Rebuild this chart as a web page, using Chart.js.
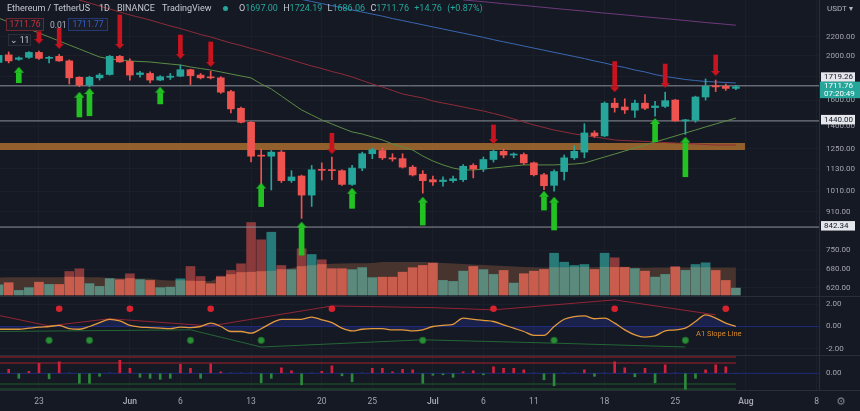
<!DOCTYPE html>
<html><head><meta charset="utf-8">
<script src="https://cdn.jsdelivr.net/npm/chart.js@4.4.1/dist/chart.umd.min.js"></script>
<style>
html,body{margin:0;padding:0;background:#151924;overflow:hidden;}
#wrap{position:relative;width:860px;height:411px;}
#c{position:absolute;left:0;top:0;}
.t{position:absolute;font-family:Roboto,'Open Sans',sans-serif;white-space:nowrap;line-height:1;}
.bx{position:absolute;box-sizing:border-box;font-family:Roboto,sans-serif;font-size:8.5px;line-height:11px;text-align:center;}
</style></head><body>
<div id="wrap">
<canvas id="c" width="860" height="411"></canvas>
<div class="t" style="left:7px;top:4px;font-size:9px;color:#c7cad1">Ethereum / TetherUS</div>
<div class="t" style="left:99px;top:4px;font-size:9px;color:#c7cad1">1D</div>
<div class="t" style="left:117px;top:4px;font-size:9px;color:#c7cad1">BINANCE</div>
<div class="t" style="left:162px;top:4px;font-size:9px;color:#c7cad1">TradingView</div>
<div class="t" style="left:223px;top:6px;width:5px;height:5px;border-radius:50%;background:#26a69a"></div>
<div class="t" id="ohlc" style="left:239px;top:4px;font-size:9px;color:#c7cad1;word-spacing:3px"></div>
<div class="bx" style="left:6px;top:18px;width:38px;height:13px;border:1px solid #6e2630;color:#c9343f;background:#1a1d27">1711.76</div>
<div class="t" style="left:50px;top:21px;font-size:8.5px;color:#b2b5be">0.01</div>
<div class="bx" style="left:68px;top:18px;width:40px;height:13px;border:1px solid #263a72;color:#3160d0;background:#1a1d27">1711.77</div>
<div class="bx" style="left:8px;top:34px;width:23px;height:12px;border:1px solid #2a2e39;color:#c7cad1;background:#181c27;line-height:10px">&#8964; 11</div>
<div class="t" style="left:827px;top:5px;font-size:8px;color:#b2b5be">USDT &#9662;</div>
<div class="t" style="left:696px;top:330px;font-size:7.5px;color:#d98a30">A1 Slope Line</div>
<div class="t" style="left:836px;top:396px;font-size:11px;color:#7c7f88;font-family:'DejaVu Sans',sans-serif">&#9881;</div>
</div>
<script>
// ---------- DATA ----------
const firstDay = -4;            // day index of first candle (0 = 23 May)
const opens  = [1935,2010,1965,1985,2035,1975,1995,1950,1795,1725,1790,1820,1995,1945,1820,1830,1770,1795,1805,1865,1815,1795,1790,1670,1535,1430,1210,1205,1230,1065,1090,990,1125,1125,1120,1045,1135,1220,1240,1195,1190,1140,1100,1070,1060,1065,1070,1150,1130,1185,1235,1212,1215,1165,1097,1040,1115,1195,1230,1355,1335,1575,1545,1520,1575,1540,1550,1600,1440,1445,1625,1720,1715,1697];
const highs  = [2015,2040,1990,2045,2050,1995,2015,1960,1800,1805,1830,2005,2005,1970,1850,1845,1810,1830,1910,1870,1830,1850,1800,1680,1545,1435,1250,1240,1240,1120,1095,1150,1165,1200,1125,1150,1230,1255,1255,1220,1220,1150,1120,1090,1085,1090,1155,1160,1200,1245,1250,1225,1225,1170,1105,1125,1212,1270,1420,1370,1585,1615,1610,1600,1645,1590,1665,1605,1452,1632,1780,1770,1735,1724.19];
const lows   = [1925,1930,1955,1975,1965,1930,1945,1735,1712,1710,1770,1815,1935,1770,1795,1745,1765,1775,1800,1730,1780,1780,1655,1500,1425,1170,1015,1016,1055,1055,880,935,1068,1070,1040,1040,1120,1190,1185,1175,1135,1090,1000,1040,1035,1055,1060,1080,1115,1170,1195,1195,1155,1090,1018,1010,1068,1185,1195,1325,1330,1505,1495,1465,1525,1475,1540,1437,1345,1430,1600,1670,1680,1686.06];
const closes = [2005,1950,1980,2035,1975,1985,1950,1790,1725,1795,1815,1995,1940,1815,1835,1770,1800,1805,1865,1810,1790,1790,1665,1530,1430,1205,1205,1230,1065,1085,990,1125,1122,1120,1045,1135,1220,1245,1195,1188,1140,1096,1065,1058,1068,1075,1145,1130,1185,1235,1212,1215,1165,1097,1038,1115,1195,1235,1355,1335,1575,1540,1522,1575,1535,1553,1595,1440,1448,1625,1715,1710,1697,1711.76];
const volumes = [200,244,90,144,256,210,210,470,524,224,170,324,304,424,304,290,144,156,324,570,370,224,376,490,624,1450,1104,1256,590,504,924,810,704,524,524,504,544,344,356,356,456,544,590,636,290,270,476,570,504,410,490,236,424,476,510,836,656,590,610,510,836,744,556,524,476,356,410,570,490,610,644,490,290,136];
const volumeMA = [352,354,356,357,356,355,356,358,357,356,356,340,334,330,328,330,300,292,288,280,275,278,356,410,450,456,470,476,510,540,570,590,610,624,630,636,636,640,660,660,660,660,660,656,640,630,620,610,600,590,580,570,560,556,552,550,548,552,556,560,556,552,550,548,546,548,552,554,552,550,548,550,552,552];
const maGreenStart = -4;
const maGreen = [2421,2373,2326,2291,2245,2200,2156,2113,2071,2029,1989,1969,1959,1949,1944,1939,1929,1919,1910,1891,1876,1862,1844,1825,1807,1789,1735,1692,1633,1576,1522,1484,1447,1418,1389,1362,1348,1328,1308,1282,1262,1243,1206,1176,1153,1135,1124,1124,1129,1135,1141,1147,1153,1153,1153,1153,1156,1158,1164,1182,1200,1218,1237,1256,1275,1295,1314,1334,1355,1375,1397,1418,1439,1461];
const maRedStart = 3;
const maRed = [2693,2652,2612,2573,2534,2496,2459,2428,2397,2361,2326,2297,2262,2228,2200,2167,2134,2108,2076,2050,2019,1989,1959,1929,1900,1876,1848,1825,1798,1766,1735,1709,1679,1650,1633,1617,1592,1576,1561,1545,1529,1514,1495,1476,1454,1432,1411,1393,1375,1362,1348,1338,1328,1318,1308,1304,1301,1298,1295,1291,1288,1285,1282,1278,1275,1275,1275];
const maBlueStart = 24;
const maBlue = [2720,2688,2660,2632,2604,2577,2550,2523,2496,2470,2444,2415,2390,2365,2340,2315,2291,2266,2243,2219,2196,2170,2147,2125,2102,2080,2058,2036,2015,1994,1973,1949,1929,1905,1886,1862,1844,1820,1802,1789,1775,1766,1757,1753,1748,1744];
const maPurpleDays = [42,44,46,48,50,52,54,56,58,60,62,64,66,68,69];
const maPurple = [2653,2629,2603,2580,2555,2530,2507,2482,2460,2436,2414,2391,2367,2346,2335];
const sellDays = [0,2,8,14,17,29,45,57,62,67];
const sellFrom = [2260,2302,2459,2222,2145,1353,1411,1943,1919,2009];
const sellTo   = [2178,2124,2124,2019,1939,1249,1314,1707,1744,1853];
const buyDays = [-2,4,5,12,22,26,31,38,50,51,61,64];
const buyFrom = [1746,1469,1478,1569,934,731,926,851,918,830,1296,1086];
const buyTo   = [1837,1619,1650,1661,1023,840,997,953,982,953,1418,1290];
const bandLevel = 1265;
const resistanceLevel = 1719.26;
const supportLevel = 1440.00;
const lowLevel = 842.34;
const slope = [-0.25,-0.25,-0.25,-0.15,-0.05,0,0.1,-0.2,-0.25,0,0.35,0.65,0.5,0.1,-0.05,-0.1,-0.15,-0.2,-0.05,-0.1,0,0.3,0,-0.45,-0.45,-0.6,-0.2,0.3,0.65,0.65,0.65,0.85,0.6,0.35,-0.15,-0.4,-0.25,-0.2,-0.2,-0.3,-0.3,-0.4,-0.3,0,0.1,0.2,0.75,0.65,0.55,0.45,0.15,-0.15,-0.45,-0.8,-0.8,0,0.65,0.9,0.95,0.7,0.75,0.3,-0.3,-0.75,-0.95,-0.85,-0.4,-0.3,-0.15,0.45,1.05,0.75,0.3,0];
const redEnvDays = [-4,1,7,17,29,39,45,57,67];
const redEnv = [1.0,0.05,0.7,0.05,1.85,1.7,1.5,2.4,1.05];
const greenEnvDays = [-4,15,22,38,51,64];
const greenEnv = [-0.45,-0.3,-1.85,-1.2,-1.5,-1.85];
const redDotDays = [2,9,17,29,45,57,68];
const redDots = [1.6,1.6,1.6,1.6,1.6,1.6,1.6];
const greenDotDays = [1,5,15,22,38,51,64];
const greenDots = [-1.25,-1.25,-1.25,-1.25,-1.25,-1.25,-1.25];
const hist = [0.1,0.4,-0.5,0.2,1.0,-0.55,1.15,0.05,-1.0,-1.0,-0.3,0.05,1.3,0.5,-0.4,-0.5,-0.6,-0.5,0.9,0.5,-0.5,0.95,0.15,0.05,0.05,0.05,-0.95,-0.5,0.55,0.25,-1.15,0.05,0.2,0.75,-0.25,-0.85,0.05,0.5,0.5,0.15,0.4,0.35,-1.0,-0.2,-0.15,-0.4,0.15,0.25,-0.15,0.65,0.5,0.5,0.35,0.05,-0.65,-1.25,0.05,0.05,0.35,-0.3,0.05,1.15,0.55,-0.35,0.5,-0.95,0.85,0.05,-1.6,-0.5,0.35,0.85,0.65,0];
const histRedLevels = [1.63,1.03];
const histGreenLevels = [-1.07,-1.57];
const xTickDays = [0,9,14,21,28,33,39,44,49,56,63,70,77];
const xTickLabels = ['23','Jun','6','13','20','25','Jul','6','11','18','25','Aug','8'];
const priceTicks = [2200,2000,1800,1600,1400,1250,1130,1010,910,750,680,620];
const oscTicks = [2,0,-2];
const histTicks = [0];
const timeToClose = '07:20:49';

// ---------- HEADER ----------
(function(){
  const n = closes.length - 1, ch = closes[n] - closes[n-1];
  const pct = ch / closes[n-1] * 100;
  const g = v => '<span style="color:#26a69a">' + v + '</span>';
  document.getElementById('ohlc').innerHTML =
    'O' + g(opens[n].toFixed(2)) + ' H' + g(highs[n].toFixed(2)) + ' L' + g(lows[n].toFixed(2)) +
    ' C' + g(closes[n].toFixed(2)) + ' ' + g((ch>=0?'+':'') + ch.toFixed(2) + ' (' + (pct>=0?'+':'') + pct.toFixed(2) + '%)');
})();

// ---------- BUILD ----------
const UP = '#26a69a', DOWN = '#ef5350';
const dayAt = i => firstDay + i;
const isUp = closes.map((c,i) => c >= opens[i]);
const candleColors = isUp.map(u => u ? UP : DOWN);
const series = (start, arr) => arr.map((v,i) => ({x: start + i, y: v}));
const pairs = (days, arr) => days.map((d,i) => ({x: d, y: arr[i]}));
const lastDay = dayAt(closes.length - 1);

function headImg(color, down, w, h){
  const c = document.createElement('canvas'); c.width = w; c.height = h*2;
  const g = c.getContext('2d'); g.fillStyle = color; g.beginPath();
  if (down) { g.moveTo(0,h); g.lineTo(w,h); g.lineTo(w/2,2*h); }
  else { g.moveTo(0,h); g.lineTo(w,h); g.lineTo(w/2,0); }
  g.closePath(); g.fill(); return c;
}
const SELL = '#c8141e', BUY = '#22c223';
const lineDS = (data, color, width, yAxisID, order, extra) => Object.assign({type:'line', data, borderColor:color, borderWidth:width, pointRadius:0, yAxisID, order, fill:false, tension:0}, extra||{});
const hline = (y, x0, x1) => [{x:x0,y},{x:x1,y}];

const datasets = [
  // arrows
  {type:'scatter', data: pairs(sellDays, sellTo), yAxisID:'yP', order:0, pointStyle: headImg(SELL,true,9,5), pointRadius:5},
  {type:'scatter', data: pairs(buyDays, buyTo), yAxisID:'yP', order:0, pointStyle: headImg(BUY,false,10,6), pointRadius:5},
  {type:'bar', data: sellDays.map((d,i)=>({x:d, y:[sellFrom[i], sellTo[i]]})), yAxisID:'yP', order:1, backgroundColor:SELL, barThickness:4, grouped:false},
  {type:'bar', data: buyDays.map((d,i)=>({x:d, y:[buyFrom[i], buyTo[i]]})), yAxisID:'yP', order:1, backgroundColor:BUY, barThickness:5, grouped:false},
  // candles
  {type:'bar', data: opens.map((o,i)=>({x:dayAt(i), y:[o, closes[i]]})), yAxisID:'yP', order:2, backgroundColor:candleColors, barThickness:7, minBarLength:1, grouped:false},
  {type:'bar', data: lows.map((l,i)=>({x:dayAt(i), y:[l, highs[i]]})), yAxisID:'yP', order:3, backgroundColor:candleColors, barThickness:1, grouped:false},
  // moving averages
  lineDS(series(maGreenStart, maGreen), '#5d8c45', 1, 'yP', 4),
  lineDS(series(maRedStart, maRed), '#8e2c38', 1, 'yP', 4),
  lineDS(series(maBlueStart, maBlue), '#3a68b0', 1, 'yP', 4),
  lineDS(pairs(maPurpleDays, maPurple), '#6d3a7c', 1, 'yP', 4),
  // levels
  lineDS(hline(bandLevel, -4, 69.9), 'rgba(196,124,48,0.72)', 7, 'yP', 5),
  lineDS(hline(resistanceLevel, -4, 78), '#8d9099', 1, 'yP', 5),
  lineDS(hline(supportLevel, -4, 78), '#8d9099', 1, 'yP', 5),
  lineDS(hline(lowLevel, -4, 78), '#8d9099', 1, 'yP', 5),
  // volume
  {type:'bar', data: volumes.map((v,i)=>({x:dayAt(i), y:Math.min(v, volumeMA[i])})), yAxisID:'yV', stack:'vol', order:6, backgroundColor: isUp.map(u=>u?'#5b8a7c':'#c95d4d'), barThickness:9, grouped:false},
  {type:'bar', data: volumes.map((v,i)=>({x:dayAt(i), y:Math.max(0, v - volumeMA[i])})), yAxisID:'yV', stack:'vol', order:6, backgroundColor: isUp.map(u=>u?'#277a78':'#8a3a3b'), barThickness:9, grouped:false},
  lineDS(series(firstDay, volumeMA), 'rgba(0,0,0,0)', 0, 'yV', 7, {fill:'origin', backgroundColor:'#47342f'}),
  // oscillator
  lineDS(hline(0, -4, 78), '#1f2a78', 1, 'yO', 6),
  lineDS(pairs(redEnvDays, redEnv), 'rgba(190,40,60,0.75)', 1, 'yO', 5),
  lineDS(pairs(greenEnvDays, greenEnv), 'rgba(40,130,60,0.75)', 1, 'yO', 5),
  lineDS(series(firstDay, slope), '#e39a3b', 1.3, 'yO', 3, {fill:'origin', backgroundColor:'rgba(38,48,150,0.35)', cubicInterpolationMode:'monotone'}),
  {type:'scatter', data: pairs(redDotDays, redDots), yAxisID:'yO', order:0, pointRadius:3.3, backgroundColor:'#d8232e', borderWidth:0},
  {type:'scatter', data: pairs(greenDotDays, greenDots), yAxisID:'yO', order:0, pointRadius:3.3, backgroundColor:'#2a8d37', borderColor:'#1b5e24', borderWidth:1},
  // histogram pane
  lineDS(hline(0, -4, 78), '#1f2a78', 1, 'yH', 6),
  lineDS(hline(histRedLevels[0], -4, lastDay), '#a8202f', 1.2, 'yH', 5),
  lineDS(hline(histRedLevels[1], -4, lastDay), '#a8202f', 1.2, 'yH', 5),
  lineDS(hline(histGreenLevels[0], -4, lastDay), '#1e5e28', 1, 'yH', 5),
  lineDS(hline(histGreenLevels[1], -4, lastDay), '#1e5e28', 1, 'yH', 5),
  {type:'bar', data: hist.map((v,i)=>({x:dayAt(i), y:v})), yAxisID:'yH', order:4, backgroundColor: hist.map(v => v > 0.1 ? '#d41f3c' : (v < 0 ? '#2c8a3c' : '#2a3580')), barThickness:2, grouped:false}
];

const AX = '#a3a6af', GRID = '#1b1f2a', BORDER = '#2a2e39';
const noPad = s => { s.paddingTop = 0; s.paddingBottom = 0; s.paddingLeft = 0; s.paddingRight = 0; };
const yCommon = (ticksArr, weight, mn, mx, type) => ({
  type: type || 'linear', position:'right', stack:'panes', stackWeight:weight, min:mn, max:mx, bounds:'data',
  beginAtZero:false, offset:false,
  afterBuildTicks: s => { s.ticks = ticksArr.map(v => ({value:v})); },
  afterFit: s => { s.width = 41; noPad(s); },
  grid:{color:GRID, drawTicks:false, offset:false}, border:{display:true, color:BORDER},
  ticks:{padding:7, color:AX, autoSkip:false, font:{family:'Roboto', size:8}, callback: v => Number(v).toFixed(2)}
});

const framePlugin = {
  id:'frame',
  afterDraw(chart){
    const {ctx, scales} = chart, W = chart.width;
    ctx.save();
    ctx.strokeStyle = BORDER; ctx.lineWidth = 1;
    [scales.yO.top, scales.yH.top, scales.yH.bottom].forEach(y => {
      const yy = Math.round(y) + 0.5;
      ctx.beginPath(); ctx.moveTo(0, yy); ctx.lineTo(W, yy); ctx.stroke();
    });
    const yP = scales.yP, x0 = yP.left;
    ctx.font = '8px Roboto'; ctx.textBaseline = 'middle'; ctx.textAlign = 'left';
    const box = (val, off) => {
      const y = yP.getPixelForValue(val) + off;
      ctx.fillStyle = '#e4e6ec'; ctx.fillRect(x0 + 2, y - 4.5, 34, 9.5);
      ctx.fillStyle = '#131722'; ctx.fillText(val.toFixed(2), x0 + 5, y + 0.5);
    };
    box(resistanceLevel, -9);
    box(supportLevel, -1.5);
    box(lowLevel, -1.5);
    const last = closes[closes.length - 1];
    const ty = yP.getPixelForValue(last) - 5;
    ctx.fillStyle = '#26a69a'; ctx.fillRect(x0 + 1, ty, 40, 16.5);
    ctx.fillStyle = '#ffffff';
    ctx.fillText(last.toFixed(2), x0 + 5, ty + 4.5);
    ctx.fillText(timeToClose, x0 + 5, ty + 12);
    ctx.restore();
  }
};

new Chart(document.getElementById('c'), {
  data:{datasets},
  options:{
    responsive:false, animation:false, devicePixelRatio:1,
    layout:{padding:0, autoPadding:false},
    plugins:{legend:{display:false}, tooltip:{enabled:false}},
    scales:{
      x:{type:'linear', position:'bottom', min:-3.86, max:77.23, bounds:'data', offset:false, beginAtZero:false,
         afterBuildTicks: s => { s.ticks = xTickDays.map(v => ({value:v})); },
         afterFit: s => { s.height = 21; noPad(s); },
         grid:{color:GRID, drawTicks:false, offset:false}, border:{display:true, color:BORDER},
         ticks:{padding:7, color:AX, autoSkip:false, maxRotation:0, minRotation:0,
           font: ctx => { const i = xTickDays.indexOf(ctx.tick ? ctx.tick.value : NaN); const lb = xTickLabels[i] || ''; return {family:'Roboto', size:8.5, weight: /[A-Z]/.test(lb) ? '600' : '400'}; },
           callback: v => { const i = xTickDays.indexOf(v); return i >= 0 ? xTickLabels[i] : ''; }}},
      yP: yCommon(priceTicks, 296, 594.7, 2652, 'logarithmic'),
      yO: yCommon(oscTicks, 59, -2.57, 2.75),
      yH: yCommon(histTicks, 35, -1.67, 1.83),
      yV: {type:'linear', display:false, stacked:true, min:-1900, max:5900, position:'right', beginAtZero:false, afterFit: s => { s.width = 0; noPad(s); }}
    }
  },
  plugins:[framePlugin]
});
</script>
</body></html>
